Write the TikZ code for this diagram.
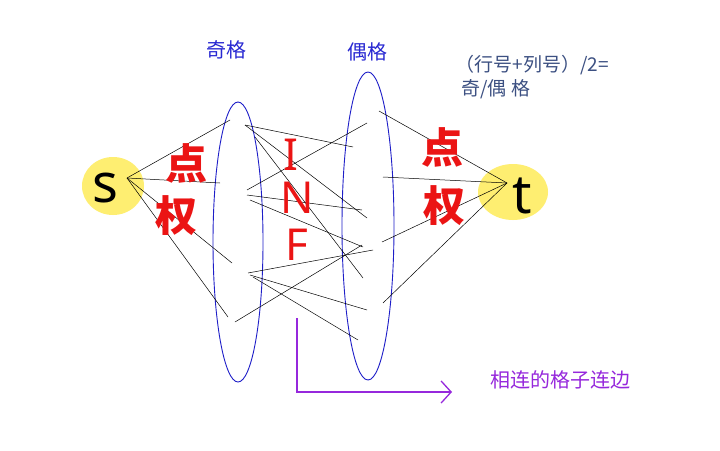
\documentclass[tikz,border=0pt]{standalone}
\usepackage{fontspec}
\setmainfont{Noto Sans}
\newfontfamily\cjk{Noto Sans CJK SC}
\usetikzlibrary{arrows.meta}
\begin{document}
\begin{tikzpicture}[x=1pt,y=-1pt,
  edge/.style={black,line width=0.5pt},
  oval/.style={draw={rgb,255:red,30;green,30;blue,200},line width=0.9pt},
  redtxt/.style={text={rgb,255:red,235;green,20;blue,20},font=\cjk\bfseries\fontsize{42}{42}\selectfont},
  redlat/.style={text={rgb,255:red,235;green,20;blue,20},font=\bfseries\fontsize{44}{44}\selectfont},
  bluetxt/.style={text={rgb,255:red,40;green,40;blue,210},font=\cjk\fontsize{20}{20}\selectfont},
  grey/.style={text={rgb,255:red,60;green,80;blue,130},font=\cjk\fontsize{19}{20}\selectfont},
  purp/.style={text={rgb,255:red,150;green,40;blue,220},font=\cjk\fontsize{20}{20}\selectfont}]
\useasboundingbox (0,0) rectangle (720,450);
\fill[white] (0,0) rectangle (720,450);
\fill[yellow!85!orange!55] (113,186) ellipse [x radius=31,y radius=29];
\fill[yellow!85!orange!55] (513,192) ellipse [x radius=35,y radius=28];
\node[font=\fontsize{54}{54}\selectfont] (s) at (105,188) {s};
\node[font=\fontsize{54}{54}\selectfont] (t) at (522,196) {t};
\coordinate (sh) at (127,178);
\coordinate (th) at (507,183);
\draw[oval] (238,242) ellipse [x radius=25,y radius=140];
\draw[oval] (368,226) ellipse [x radius=26,y radius=154];
\foreach \p in {(230,120),(220,183),(232,263),(228,317)} \draw[edge] (sh) -- \p;
\foreach \p in {(379,111),(383,177),(382,242),(383,303)} \draw[edge] (th) -- \p;
\draw[edge] (245,125) -- (353,147);
\draw[edge] (245,125) -- (367,218);
\draw[edge] (255,137) -- (363,278);
\draw[edge] (247,190) -- (367,123);
\draw[edge] (247,195) -- (362,210);
\draw[edge] (250,200) -- (363,247);
\draw[edge] (248,273) -- (373,250);
\draw[edge] (250,275) -- (367,310);
\draw[edge] (253,277) -- (358,340);
\draw[edge] (235,322) -- (362,245);
\node[redtxt] (d1) at (186,163) {点};
\node[redtxt] (q1) at (176,216) {权};
\node[redtxt] (d2) at (442,147) {点};
\node[redtxt] (q2) at (444,206) {权};
\node[redlat] (i) at (291,155) {I};
\node[redlat] (n) at (297,198) {N};
\node[redlat] (f) at (297,245) {F};
\node[bluetxt] (odd) at (226,50) {奇格};
\node[bluetxt] (even) at (367,52) {偶格};
\node[grey,anchor=west] (f1) at (452,65) {（行号+列号）/2=};
\node[grey,anchor=west] (f2) at (458,89) {奇/偶 格};
\coordinate (a0) at (297,318);
\coordinate (a1) at (297,392);
\coordinate (a2) at (452,392);
\draw[draw={rgb,255:red,150;green,40;blue,220},line width=1.3pt,-{Straight Barb[length=10pt,width=22pt]}] (a0) -- (a1) -- (a2);
\node[purp] (lbl) at (560,380) {相连的格子连边};
\end{tikzpicture}
\end{document}
